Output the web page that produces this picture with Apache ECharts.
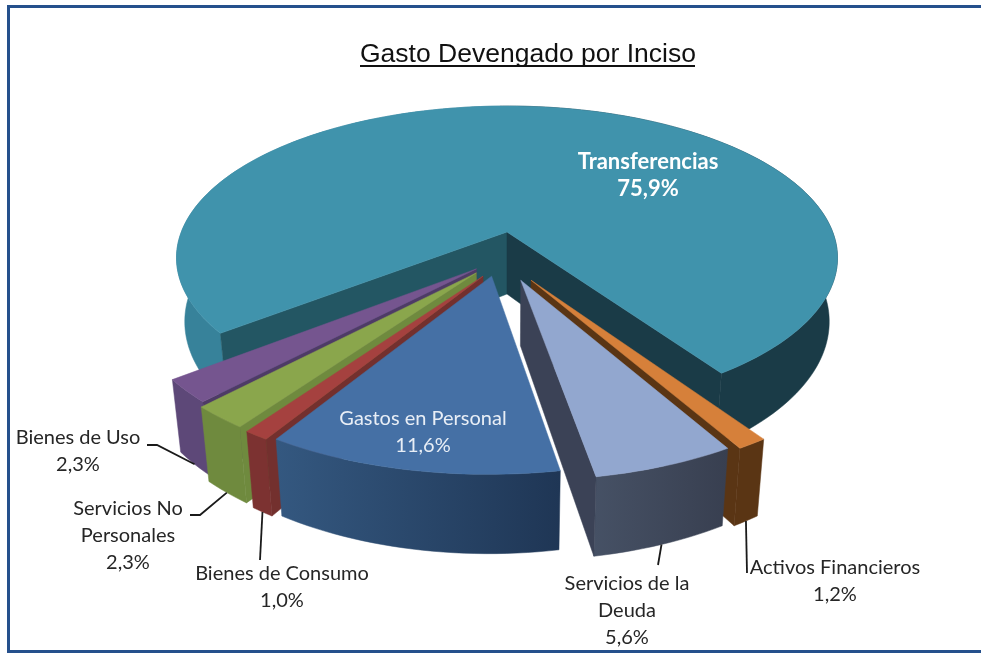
<!DOCTYPE html>
<html>
<head>
<meta charset="utf-8">
<style>
  html, body { margin: 0; padding: 0; background: #fff; }
  #chart { width: 981px; height: 654px; }
</style>
<script src="https://cdn.jsdelivr.net/npm/echarts@6/dist/echarts.min.js"></script>
</head>
<body>
<div id="chart"></div>
<script>
// data, clockwise from the left cut of the big slice
const categories = ['Transferencias', 'Activos Financieros', 'Servicios de la\nDeuda', 'Gastos en Personal', 'Bienes de Consumo', 'Servicios No\nPersonales', 'Bienes de Uso'];
const values = [75.9, 1.2, 5.6, 11.6, 1.0, 2.3, 2.3];

// styles per slice, same order as categories
const topColors = ['#4093ac', '#d6803a', '#92a7cf', '#4570a5', '#a5413f', '#8aa64c', '#75558f'];
const wallColors = ['#1a3b47', '#5a3514', '#3b4256', '#24406a', '#73302e', '#6f8a3e', '#4e3b66'];
const rimColors = [
  ['#37829a', '#1a3b47'], ['#5a3514', '#5a3514'], ['#465165', '#383f50'], ['#345880', '#1f3655'],
  ['#7c3231', '#7c3231'], ['#6f8a3e', '#6f8a3e'], ['#5d4878', '#5d4878']
];
const labelColors = ['#fff', '#262626', '#262626', '#e8eef6', '#262626', '#262626', '#262626'];
const labelFonts = ['bold 22px', '20px', '20px', '20px', '20px', '20px', '20px'];
const labelPos = [[648, 175], [835, 581], [627, 611], [423, 432], [282, 587], [128, 536], [78, 451]];
// slice shift from the pie centre, in disc units
const explode = [[0, 0], [0.07, 0.31], [0.04, 0.31], [-0.045, 0.285], [-0.07, 0.285], [-0.09, 0.265], [-0.09, 0.24]];
// label side of the leader lines, empty = no leader
const leaders = [[], [[747, 573]], [[658, 565]], [], [[260, 560]], [[200, 515], [190, 515]], [[157, 445], [147, 445]]];
const paintOrder = [0, 1, 6, 5, 4, 3, 2];

const cx = 507, cy = 232, rx = 325.7, ry = 147.4, persp = 0.17, depth = 62, baseShrink = 0.025;
const firstAngle = 232;

const total = values.reduce((a, b) => a + b, 0);
const starts = [];
values.reduce((acc, v, i) => { starts[i] = acc; return acc + v / total * 360; }, firstAngle);

function project(dx, dy, X, Y, z) {
  const px = X + dx, py = Y + dy;
  const s = 1 / (1 - persp * py);
  return [cx + rx * px * s * (1 - baseShrink * z), cy + (ry * py + depth * z) * s];
}

function discPoint(i, deg, z) {
  const a = deg * Math.PI / 180;
  return project(explode[i][0], explode[i][1], Math.sin(a), -Math.cos(a), z);
}

function apex(i, z) {
  return project(explode[i][0], explode[i][1], 0, 0, z);
}

function arc(i, z) {
  const span = values[i] / total * 360;
  const n = Math.max(4, Math.ceil(span / 1.5));
  const pts = [];
  for (let k = 0; k <= n; k++) pts.push(discPoint(i, starts[i] + span * k / n, z));
  return pts;
}

function area(p) {
  let s = 0;
  p.forEach((a, k) => {
    const b = p[(k + 1) % p.length];
    s += a[0] * b[1] - b[0] * a[1];
  });
  return s;
}

function poly(points, fill) {
  return { type: 'polygon', shape: { points }, style: { fill, stroke: fill, lineWidth: 0.5 } };
}

function renderSlice(params, api) {
  const i = api.value(0);
  const top = arc(i, 0), bottom = arc(i, 1);
  const children = [];

  // rim
  const split = i === 0 ? 0.49 : 0;
  const rim = i === 0
    ? new echarts.graphic.LinearGradient(0, 0, 1, 0, [
      { offset: 0, color: rimColors[i][0] }, { offset: split, color: rimColors[i][0] },
      { offset: split, color: rimColors[i][1] }, { offset: 1, color: rimColors[i][1] }])
    : new echarts.graphic.LinearGradient(0, 0, 1, 0, [
      { offset: 0, color: rimColors[i][0] }, { offset: 1, color: rimColors[i][1] }]);
  children.push(poly(top.concat(bottom.slice().reverse()), rim));

  // cut walls, only those turned to the viewer
  const wallA = [apex(i, 0), top[0], bottom[0], apex(i, 1)];
  const wallB = [top[top.length - 1], apex(i, 0), apex(i, 1), bottom[bottom.length - 1]];
  if (area(wallA) < 0) children.push(poly(wallA, i === 0 ? '#235663' : wallColors[i]));
  if (area(wallB) < 0) children.push(poly(wallB, wallColors[i]));

  children.push(poly([apex(i, 0)].concat(top), topColors[i]));

  // leader line
  if (leaders[i].length) {
    const mid = starts[i] + values[i] / total * 180;
    children.push({
      type: 'polyline',
      shape: { points: [discPoint(i, mid, 1)].concat(leaders[i]) },
      style: { stroke: '#1a1a1a', lineWidth: 1.8, fill: null }
    });
  }

  const pct = values[i].toFixed(1).replace('.', ',') + '%';
  children.push({
    type: 'text',
    style: {
      x: labelPos[i][0], y: labelPos[i][1],
      text: categories[i] + '\n' + pct,
      fill: labelColors[i],
      font: labelFonts[i] + ' Lato, "Open Sans", sans-serif',
      align: 'center', verticalAlign: 'middle', lineHeight: 27
    }
  });
  return { type: 'group', children };
}

const chart = echarts.init(document.getElementById('chart'), null, { renderer: 'canvas' });
chart.setOption({
  animation: false,
  backgroundColor: '#fff',
  title: {
    text: 'Gasto Devengado por Inciso',
    left: 355, top: 36,
    textStyle: { fontFamily: '"Liberation Sans", Arial, sans-serif', fontSize: 26.5, fontWeight: 'normal', color: '#111' }
  },
  graphic: [
    { type: 'rect', shape: { x: 8.5, y: 6.5, width: 990, height: 645 }, style: { fill: 'none', stroke: '#25508c', lineWidth: 3 }, silent: true },
    { type: 'line', shape: { x1: 360, y1: 66, x2: 695, y2: 66 }, style: { stroke: '#111', lineWidth: 2 }, silent: true }
  ],
  series: [{
    type: 'custom',
    coordinateSystem: 'none',
    renderItem: renderSlice,
    data: paintOrder.map(i => [i, values[i]])
  }]
});
</script>
</body>
</html>
